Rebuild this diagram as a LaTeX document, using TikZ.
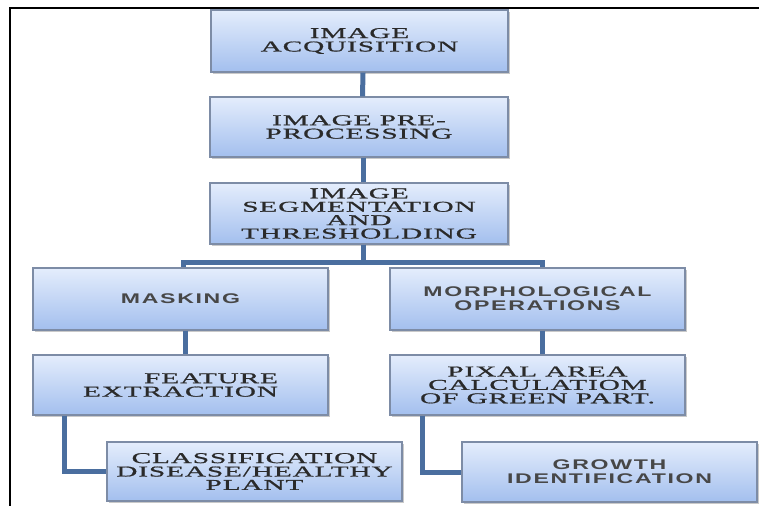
\documentclass[tikz,border=0pt]{standalone}
\usepackage{fontspec}
\usetikzlibrary{shadows}
\newfontfamily\serifw[FakeStretch=1.95,LetterSpace=6,FakeBold=1]{Liberation Serif}
\newfontfamily\sansw[FakeStretch=1.65,LetterSpace=12]{Liberation Sans Bold}
\definecolor{boxtop}{HTML}{E4EDFC}
\definecolor{boxbot}{HTML}{A3BFEE}
\definecolor{boxline}{HTML}{7D8CA6}
\definecolor{connc}{HTML}{4A6E9F}
\definecolor{txtser}{HTML}{2A2A2A}
\definecolor{txtsans}{HTML}{474747}
\tikzset{
  pbox/.style={rectangle, draw=boxline, line width=1.3pt, top color=boxtop, bottom color=boxbot,
    inner sep=0pt, minimum width=295pt, minimum height=60pt,
    drop shadow={shadow xshift=1.5pt, shadow yshift=-1.5pt, opacity=0.35, fill=black!60}},
  sertxt/.style={font=\serifw\fontsize{15}{13.4}\selectfont, text=txtser, align=center},
  sanstxt/.style={font=\sansw\fontsize{14}{14}\selectfont, text=txtsans, align=center},
  conn/.style={draw=connc, line width=5pt},
  frameline/.style={draw=black, line width=1.5pt}
}
\begin{document}
\begin{tikzpicture}[x=1pt,y=-1pt]
\useasboundingbox (0,0) rectangle (759,506);
\fill[white] (0,0) rectangle (759,506);
% frame
\coordinate (ftl) at (10,8);
\coordinate (ftr) at (759,8);
\coordinate (fbl) at (10,506);
\draw[frameline] (ftr) -- (ftl) -- (fbl);

% boxes
\node[pbox, sertxt, minimum width=297pt, minimum height=62pt] (acq) at (359.5,41) {IMAGE\\ACQUISITION};
\node[pbox, sertxt, minimum width=298pt] (pre) at (359,127) {IMAGE PRE-\\PROCESSING};
\node[pbox, sertxt, minimum width=298pt, minimum height=61pt] (seg) at (359,213.5) {IMAGE\\SEGMENTATION\\AND\\THRESHOLDING};
\node[pbox, sanstxt, minimum height=62pt] (mask) at (180.5,299) {MASKING};
\node[pbox, sanstxt, minimum height=62pt] (morph) at (537.5,299) {MORPHOLOGICAL\\OPERATIONS};
\node[pbox, sertxt, align=right] (feat) at (180.5,385) {FEATURE\\EXTRACTION};
\node[pbox, sertxt] (pix) at (537.5,385) {PIXAL AREA\\CALCULATIOM\\OF GREEN PART.};
\node[pbox, sertxt, minimum height=59pt] (cls) at (254.5,471.5) {CLASSIFICATION\\DISEASE/HEALTHY\\PLANT};
\node[pbox, sanstxt] (grw) at (609.5,472) {GROWTH\\IDENTIFICATION};

% connectors
\draw[conn] ([xshift=3.5pt]acq.south) -- ([xshift=3.5pt]pre.north);
\draw[conn] ([xshift=4pt]pre.south) -- ([xshift=4pt]seg.north);
\draw[conn] ([xshift=4pt]seg.south) -- ++(0,18) -| ([xshift=2.5pt]mask.north);
\draw[conn] ([xshift=4pt]seg.south) -- ++(0,18) -| ([xshift=4.5pt]morph.north);
\draw[conn] ([xshift=4.5pt]mask.south) -- ([xshift=4.5pt]feat.north);
\draw[conn] ([xshift=4.5pt]morph.south) -- ([xshift=4.5pt]pix.north);
\draw[conn] ([xshift=-116.5pt]feat.south) |- (cls.west);
\draw[conn] ([xshift=-115.5pt]pix.south) |- (grw.west);
\end{tikzpicture}
\end{document}
